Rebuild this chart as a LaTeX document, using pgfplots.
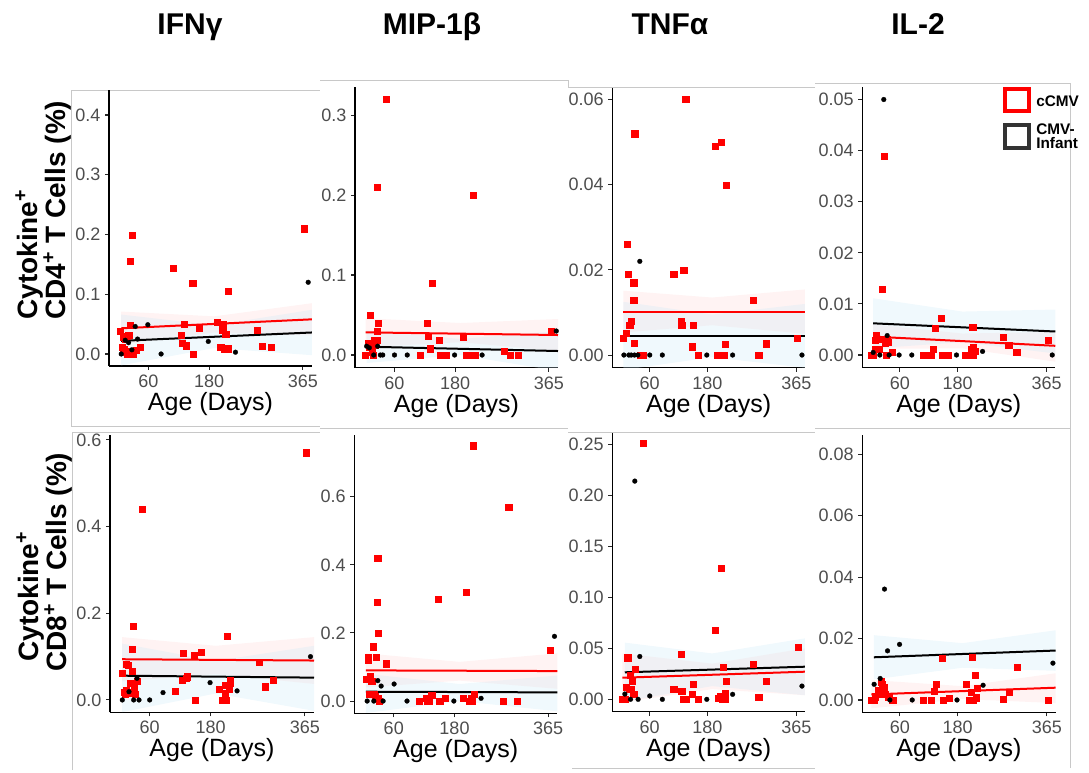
\documentclass[border=0pt]{standalone}
\usepackage{pgfplots}
\pgfplotsset{compat=1.18}
\usepackage{fontspec}
\setmainfont{Liberation Sans}
\definecolor{tickgray}{HTML}{4D4D4D}
\definecolor{ribred}{RGB}{255,215,215}
\definecolor{ribblue}{RGB}{205,234,247}
\definecolor{framegray}{RGB}{200,200,200}
\definecolor{legblk}{HTML}{333333}
\pgfplotsset{
 panel/.style={
   scale only axis, anchor=south west,
   xmin=-18, xmax=383,
   axis x line*=bottom, axis y line*=left,
   axis line style={-, black, line width=1pt},
   tick pos=left, tick align=outside,
   major tick length=3pt,
   tick style={black!85, line width=0.8pt},
   scaled y ticks=false, scaled x ticks=false,
   xtick={60,180,365}, xticklabels={60,180,365},
   ticklabel style={font=\fontsize{13.5}{14}\selectfont, text=tickgray},
   xlabel={Age (Days)},
   xlabel style={font=\fontsize{18.75}{20}\selectfont, at={(axis description cs:0.5,0)}, anchor=center, yshift=-28.5pt},
 },
 redpts/.style={only marks, color=red, mark=square*, mark size=2.3pt, mark options={solid, fill=red, draw=red, line width=0.1pt}},
 blkpts/.style={only marks, color=black, mark=*, mark size=1.8pt, mark options={solid, fill=black, draw=black, line width=0.2pt}},
 redline/.style={red, line width=1.5pt, no marks},
 blkline/.style={black, line width=1.5pt, no marks},
 redrib/.style={draw=none, fill=ribred, fill opacity=0.3},
 blkrib/.style={draw=none, fill=ribblue, fill opacity=0.3},
}
\begin{document}
\begin{tikzpicture}
\path[use as bounding box] (0,0) rectangle (816.75pt,579pt);

% ---------- frames, titles, labels, legend (px coordinates) ----------
\begin{scope}[x=0.75pt,y=-0.75pt,yshift=579pt]
 \draw[framegray, line width=0.6pt] (71,426)--(71,90)--(320,90);
 \draw[framegray, line width=0.6pt] (71,426)--(320,426);
 \draw[framegray, line width=0.6pt] (320,80)--(568,80)--(568,87);
 \draw[framegray, line width=0.6pt] (568,87)--(815,87);
 \draw[framegray, line width=0.6pt] (815,83)--(1070,83)--(1070,768);
 \draw[framegray, line width=0.6pt] (72,770)--(72,432)--(320,432);
 \draw[framegray, line width=0.6pt] (320,428)--(568,428);
 \draw[framegray, line width=0.6pt] (568,432)--(815,432);
 \draw[framegray, line width=0.6pt] (572,768)--(815,768);
 \draw[framegray, line width=0.6pt] (815,428)--(1070,428);

 \node[anchor=base, font=\bfseries\fontsize{22.5}{24}\selectfont] at (190,35) {IFNγ};
 \node[anchor=base, font=\bfseries\fontsize{22.5}{24}\selectfont] at (432,35) {MIP-1β};
 \node[anchor=base, font=\bfseries\fontsize{22.5}{24}\selectfont] at (670,35) {TNFα};
 \node[anchor=base, font=\bfseries\fontsize{22.5}{24}\selectfont] at (918,35) {IL-2};

 \node[rotate=90, anchor=base west, inner sep=0pt, font=\bfseries\fontsize{21}{22}\selectfont] at (37,320) {Cytokine\textsuperscript{+}};
 \node[rotate=90, anchor=base west, inner sep=0pt, font=\bfseries\fontsize{21}{22}\selectfont] at (65,320) {CD4\textsuperscript{+} T Cells (\%)};
 \node[rotate=90, anchor=base west, inner sep=0pt, font=\bfseries\fontsize{21}{22}\selectfont] at (38,662) {Cytokine\textsuperscript{+}};
 \node[rotate=90, anchor=base west, inner sep=0pt, font=\bfseries\fontsize{21}{22}\selectfont] at (66,672) {CD8\textsuperscript{+} T Cells (\%)};

 \draw[red, line width=3pt] (1005.3,88.7) rectangle (1028.7,111.3);
 \draw[legblk, line width=3pt] (1005.3,125.3) rectangle (1028.7,148);
 \node[anchor=west, inner sep=0pt, font=\bfseries\fontsize{11.5}{10}\selectfont] at (1036,101.7) {cCMV};
 \node[anchor=west, inner sep=0pt, align=left, font=\bfseries\fontsize{11.5}{10.5}\selectfont] at (1036,136.7) {CMV-\\Infant};
\end{scope}

% ================= P1: IFNg CD4 =================
\begin{axis}[panel, at={(81.75pt,304.5pt)}, width=152.25pt, height=207pt,
  ymin=-0.0201, ymax=0.4418, ytick={0,0.1,0.2,0.3,0.4}, yticklabels={0.0,0.1,0.2,0.3,0.4}]
\addplot[redrib] coordinates {(6,0.071) (190,0.063) (383,0.085) (383,0.031) (190,0.036) (6,0.016)} --cycle;
\addplot[blkrib] coordinates {(6,0.066) (190,0.048) (383,0.074) (383,-0.002) (190,0.010) (6,-0.019)} --cycle;
\addplot[redpts] coordinates {(4.2,0.038) (10.8,0.029) (17.4,0.030) (20.6,0.032) (7.5,0.012) (10.8,0.008) (17.4,0.0) (20.6,0.004) (23.9,0.0) (25.9,0.002) (23.9,0.049) (27.2,0.199) (23.9,0.156) (35.7,0.007) (43.6,0.012) (14,0.025) (30,0.0) (12,0.003) (109.2,0.144) (147.2,0.119) (130.2,0.050) (123.6,0.032) (125.6,0.018) (134.1,0.014) (148.5,0.0) (160.4,0.044) (195.8,0.054) (206.3,0.050) (206.3,0.040) (212.2,0.033) (202.3,0.011) (209.5,0.008) (216.1,0.009) (217.4,0.105) (274.5,0.040) (285,0.013) (302,0.011) (367,0.210)};
\addplot[blkpts] coordinates {(6.2,0.0) (14.1,0.023) (20.6,0.019) (27.2,0.007) (33.8,0.046) (38.4,0.025) (58.7,0.049) (84.9,0.0) (178.1,0.021) (231.8,0.003) (375.5,0.120)};
\addplot[redline] coordinates {(6,0.043) (383,0.058)};
\addplot[blkline] coordinates {(6,0.022) (383,0.036)};
\end{axis}

% ================= P2: MIP-1b CD4 =================
\begin{axis}[panel, at={(266.25pt,303.2pt)}, width=152.25pt, height=210.75pt,
  ymin=-0.0159, ymax=0.3354, ytick={0,0.1,0.2,0.3}, yticklabels={0.0,0.1,0.2,0.3}]
\addplot[redrib] coordinates {(3,0.046) (190,0.040) (383,0.045) (383,0.005) (190,0.016) (3,0.010)} --cycle;
\addplot[blkrib] coordinates {(5,0.031) (190,0.020) (383,0.030) (383,-0.020) (190,0.0) (5,-0.010)} --cycle;
\addplot[redpts] coordinates {(2.3,0) (7,0.0146) (10.3,0.010) (12.3,0.05) (15.6,0.004) (16.9,0) (20.2,0.019) (22.2,0.0125) (24.9,0.019) (24.9,0.03) (24.9,0.21) (26.8,0.04) (43.4,0.32) (124.3,0.04) (126.3,0.024) (131,0.008) (135,0.09) (109.7,0) (148.2,0.019) (149.5,0) (161.5,0) (195.9,0.023) (201.2,0) (205.9,0) (209.2,0) (215.8,0.2) (219.2,0) (276.8,0.005) (287.5,0) (304.7,0) (369.7,0.03)};
\addplot[blkpts] coordinates {(5,0.011) (10.3,0.009) (18.9,0) (26.8,0.011) (32.1,0) (36.8,0) (60,0) (85.2,0) (178.7,0) (233.1,0) (379.6,0.03)};
\addplot[redline] coordinates {(3,0.0283) (383,0.025)};
\addplot[blkline] coordinates {(5,0.0104) (383,0.005)};
\end{axis}

% ================= P3: TNFa CD4 =================
\begin{axis}[panel, at={(459.2pt,303.2pt)}, width=144.5pt, height=209.5pt,
  ymin=-0.00298, ymax=0.0626, ytick={0,0.02,0.04,0.06}, yticklabels={0.00,0.02,0.04,0.06}]
\addplot[redrib] coordinates {(5,0.0151) (190,0.0135) (383,0.0154) (383,0.0050) (190,0.0070) (5,0.0053)} --cycle;
\addplot[blkrib] coordinates {(5,0.0125) (190,0.0095) (383,0.0120) (383,-0.0030) (190,-0.0005) (5,-0.0035)} --cycle;
\addplot[redpts] coordinates {(4.8,0.0039) (10.3,0.0051) (13.1,0.026) (15.1,0.019) (17.9,0.007) (21.4,0.008) (26.2,0.017) (26.2,0.013) (26.9,0.0029) (28.3,0.052) (40.7,0) (46.2,0) (109.7,0.019) (124.9,0.008) (126.3,0.007) (130.4,0.02) (134.5,0.06) (147.6,0.002) (149.7,0.007) (161.4,0) (196,0.049) (207.7,0.05) (218,0.04) (200.8,0) (206.3,0) (211.1,0) (214.6,0) (216,0.0025) (275.3,0.013) (286.4,0) (302.9,0.0027) (366.4,0.0039)};
\addplot[blkpts] coordinates {(6.2,0) (16.5,0) (21.4,0) (28.3,0) (35.2,0) (39.3,0.022) (60,0) (86.2,0) (178.7,0) (232.5,0) (376.8,0)};
\addplot[redline] coordinates {(5,0.0102) (383,0.0102)};
\addplot[blkline] coordinates {(5,0.0045) (383,0.0045)};
\end{axis}

% ================= P4: IL-2 CD4 =================
\begin{axis}[panel, at={(646.7pt,303.2pt)}, width=144.75pt, height=210.75pt,
  ymin=-0.00249, ymax=0.0525, ytick={0,0.01,0.02,0.03,0.04,0.05}, yticklabels={0.00,0.01,0.02,0.03,0.04,0.05}]
\addplot[redrib] coordinates {(4.6,0.0060) (190,0.0042) (383,0.0045) (383,-0.0013) (190,0.0013) (4.6,0.0012)} --cycle;
\addplot[blkrib] coordinates {(4.6,0.0111) (190,0.0085) (383,0.0089) (383,0.0003) (190,0.0025) (4.6,0.0013)} --cycle;
\addplot[redpts] coordinates {(1.1,0) (4.6,0) (8,0.0012) (8.7,0.0029) (11.5,0.0039) (16.3,0.0011) (21.9,0.0031) (24,0.0129) (26.7,0.039) (28.8,0.0024) (30.9,0) (33.7,0.0031) (35.7,0.0026) (44.1,0.0005) (108.5,0) (123.8,0) (129.3,0.0011) (133.5,0.0052) (146.6,0.0072) (148.7,0) (160.5,0) (195.1,0) (200,0) (205.5,0) (209,0.0011) (211.1,0.0054) (212.5,0.0016) (215.2,0.0007) (212.5,0) (274.8,0.0035) (285.9,0.002) (302.6,0.0005) (367.7,0.003)};
\addplot[blkpts] coordinates {(4.6,0.0005) (18.4,0) (26.7,0.05) (33.7,0.0038) (37.8,0) (58.6,0) (84.9,0) (177.8,0) (231.9,0.0007) (376.7,0)};
\addplot[redline] coordinates {(4.6,0.0036) (383,0.0018)};
\addplot[blkline] coordinates {(4.6,0.0062) (383,0.0046)};
\end{axis}

% ================= P5: IFNg CD8 =================
\begin{axis}[panel, at={(82.5pt,44.8pt)}, width=153pt, height=208pt,
  ymin=-0.0284, ymax=0.6116, ytick={0,0.2,0.4,0.6}, yticklabels={0.0,0.2,0.4,0.6}]
\addplot[redrib] coordinates {(6,0.145) (190,0.125) (383,0.145) (383,0.037) (190,0.060) (6,0.043)} --cycle;
\addplot[blkrib] coordinates {(6,0.130) (190,0.090) (383,0.125) (383,-0.025) (190,0.015) (6,-0.028)} --cycle;
\addplot[redpts] coordinates {(4.9,0.063) (9.5,0.019) (11.5,0.013) (12.8,0.023) (14.1,0.082) (17.4,0.081) (20.6,0.038) (22.6,0.019) (24.6,0.118) (25.9,0.067) (25.9,0.015) (27.2,0.171) (29.2,0.031) (30.5,0.013) (35.7,0.044) (44.9,0.441) (109.2,0.021) (124.3,0.046) (125.6,0.109) (130.8,0.05) (134.1,0.054) (147.2,0.103) (149.2,0) (161,0.11) (196.4,0.025) (202.3,0) (206.3,0) (210.9,0) (208.9,0.035) (208.9,0.015) (212.8,0.148) (216.1,0.025) (217.4,0.038) (217.4,0.046) (275.1,0.088) (286.3,0.031) (302.7,0.045) (367,0.571)};
\addplot[blkpts] coordinates {(6.2,0) (19.3,0.019) (28.5,0) (35.1,0.05) (39,0) (60,0) (86.2,0.017) (178.7,0.04) (231.8,0.021) (376.1,0.1)};
\addplot[redline] coordinates {(6,0.094) (383,0.091)};
\addplot[blkline] coordinates {(6,0.056) (383,0.0515)};
\end{axis}

% ================= P6: MIP-1b CD8 =================
\begin{axis}[panel, at={(265.7pt,44pt)}, width=152.25pt, height=208.7pt,
  ymin=-0.0361, ymax=0.781, ytick={0,0.2,0.4,0.6}, yticklabels={0.0,0.2,0.4,0.6}]
\addplot[redrib] coordinates {(5,0.140) (190,0.115) (383,0.140) (383,0.036) (190,0.060) (5,0.040)} --cycle;
\addplot[blkrib] coordinates {(5,0.080) (190,0.050) (383,0.075) (383,-0.030) (190,0.0) (5,-0.035)} --cycle;
\addplot[redpts] coordinates {(4.9,0.065) (8.8,0.13) (10.1,0.12) (10.8,0.02) (12.8,0.074) (16.1,0.059) (18.7,0.16) (20,0.02) (22.6,0.013) (25.2,0.13) (26.5,0.29) (27.9,0.42) (29.8,0.2) (30.5,0) (28.5,0.01) (45.6,0.11) (109.8,0) (124.3,0.01) (126.9,0) (129.5,0) (134.8,0.018) (147.9,0.3) (150.5,0) (161.7,0.008) (196.4,0.01) (202.3,0.32) (208.2,0) (212.2,0.01) (216.1,0.75) (215.5,0) (218.7,0.02) (275.1,0) (286.9,0.57) (304,0) (368.3,0.15)};
\addplot[blkpts] coordinates {(7.5,0) (20.6,0) (28.5,0.06) (35.1,0.044) (39,0) (60.7,0.05) (86.2,0) (178.7,0) (232.5,0.008) (377.5,0.19)};
\addplot[redline] coordinates {(5,0.09) (383,0.088)};
\addplot[blkline] coordinates {(5,0.0274) (383,0.0254)};
\end{axis}

% ================= P7: TNFa CD8 =================
\begin{axis}[panel, at={(459.2pt,45.2pt)}, width=144.5pt, height=209pt,
  ymin=-0.01216, ymax=0.2611, ytick={0,0.05,0.1,0.15,0.2,0.25}, yticklabels={0.00,0.05,0.10,0.15,0.20,0.25}]
\addplot[redrib] coordinates {(3,0.045) (190,0.035) (383,0.050) (383,0.004) (190,0.010) (3,-0.003)} --cycle;
\addplot[blkrib] coordinates {(8,0.0556) (190,0.045) (383,0.0598) (383,0.004) (190,0.013) (8,-0.002)} --cycle;
\addplot[redpts] coordinates {(3.4,0) (7.5,0) (10.3,0.012) (13.8,0.041) (16.5,0.0098) (18.6,0.024) (20,0.0098) (23.4,0.018) (26.2,0.0049) (29.6,0.03) (45.5,0.251) (109.7,0.0098) (125.6,0.044) (126.3,0.0082) (130.4,0) (135.2,0) (148.3,0.0049) (149.7,0.0147) (161.4,0) (196.6,0.068) (202.1,0.001) (206.9,0.0036) (209,0.129) (211.8,0.032) (211.1,0) (215.9,0) (216.6,0.0056) (218.7,0.018) (275.3,0.035) (286.4,0.0026) (302.9,0.018) (367.8,0.051)};
\addplot[blkpts] coordinates {(8.2,0.0052) (20,0) (28.9,0.214) (35.8,0) (39.3,0.042) (60,0.0033) (86.2,0) (178.7,0) (232.5,0.0049) (376.8,0.013)};
\addplot[redline] coordinates {(3,0.0212) (383,0.0271)};
\addplot[blkline] coordinates {(8,0.0265) (383,0.032)};
\end{axis}

% ================= P8: IL-2 CD8 =================
\begin{axis}[panel, at={(646.7pt,44.8pt)}, width=145pt, height=208pt,
  ymin=-0.004, ymax=0.0863, ytick={0,0.02,0.04,0.06,0.08}, yticklabels={0.00,0.02,0.04,0.06,0.08}]
\addplot[redrib] coordinates {(1,0.0065) (190,0.0045) (383,0.0087) (383,-0.0010) (190,0.0003) (1,-0.0027)} --cycle;
\addplot[blkrib] coordinates {(6,0.0211) (190,0.0185) (383,0.0227) (383,0.0095) (190,0.0105) (6,0.0067)} --cycle;
\addplot[redpts] coordinates {(1.1,0) (6,0) (8.7,0.0011) (15.6,0.0033) (18.4,0.0018) (20.5,0.006) (23.3,0.0051) (25.3,0.0033) (26.7,0.0041) (28.8,0.0018) (36.4,0.0011) (44.8,0) (108.5,0) (124.4,0) (130.7,0.0028) (134.8,0.0051) (148,0.0136) (149.4,0) (161.9,0.0005) (196.5,0.0051) (202.8,0) (206.9,0.0026) (209.7,0.014) (211.1,0) (215.2,0.0081) (217.3,0.0008) (219.4,0.004) (274.8,0.0004) (286.6,0.0027) (303.9,0.0107) (367.7,0)};
\addplot[blkpts] coordinates {(6.6,0.0051) (19.1,0.007) (28.1,0.0361) (34.4,0.016) (39.2,0) (59.3,0.0181) (85.6,0) (178.5,0) (232.6,0.0048) (377.4,0.012)};
\addplot[redline] coordinates {(1,0.0018) (383,0.004)};
\addplot[blkline] coordinates {(6,0.0139) (383,0.0161)};
\end{axis}
\end{tikzpicture}
\end{document}
